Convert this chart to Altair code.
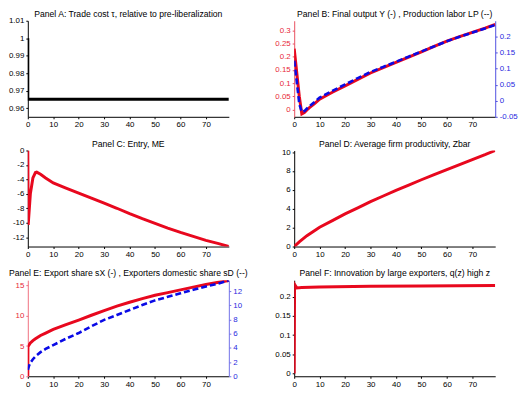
import altair as alt
import pandas as pd

FONT = "Liberation Sans"
RED = "#e8081e"
BLUE = "#0a0ae6"
RED_LBL = "#e8283a"
BLUE_LBL = "#2a2ae0"

# ---------------- data ----------------
x_ticks = [0, 10, 20, 30, 40, 50, 60, 70]

# Panel A: trade cost relative to pre-liberalization
a_t = [0, 0, 79]
a_tau = [1.0, 0.965, 0.965]
a_ticks = [0.96, 0.97, 0.98, 0.99, 1, 1.01]

# Panel B: final output Y (left) and production labor LP (right)
b_t = [0, 1, 2, 3, 4, 5, 6, 8, 10, 15, 20, 25, 30, 35, 40, 45, 50, 55, 60, 65, 70, 75, 79]
b_y = [0.23, 0.14, 0.05, -0.017, -0.012, -0.002, 0.007, 0.022, 0.039, 0.065, 0.089, 0.114,
       0.138, 0.158, 0.178, 0.198, 0.218, 0.239, 0.259, 0.276, 0.292, 0.308, 0.322]
b_lp = [0.125, 0.06, -0.01, -0.035, -0.032, -0.024, -0.017, -0.004, 0.010, 0.031, 0.051, 0.071,
        0.090, 0.106, 0.122, 0.138, 0.154, 0.170, 0.186, 0.200, 0.213, 0.226, 0.237]
b_left_ticks = [0, 0.05, 0.1, 0.15, 0.2, 0.25, 0.3]
b_right_ticks = [-0.05, 0, 0.05, 0.1, 0.15, 0.2]

# Panel C: entry ME
c_t = [0, 0.15, 1, 2, 3, 3.5, 5, 7, 10, 15, 20, 25, 30, 35, 40, 45, 50, 55, 60, 65, 70, 75, 79]
c_me = [0, -10.3, -6.0, -3.8, -3.05, -3.0, -3.3, -3.8, -4.5, -5.2, -5.9, -6.6, -7.3, -8.0,
        -8.75, -9.45, -10.1, -10.75, -11.35, -11.9, -12.45, -12.9, -13.3]
c_ticks = [-12, -10, -8, -6, -4, -2, 0]

# Panel D: average firm productivity Zbar
d_t = [0, 2, 5, 10, 15, 20, 25, 30, 35, 40, 45, 50, 55, 60, 65, 70, 75, 79]
d_z = [0, 0.5, 1.15, 2.05, 2.75, 3.45, 4.1, 4.75, 5.35, 5.95, 6.5, 7.07, 7.62, 8.15, 8.68,
       9.2, 9.72, 10.17]
d_ticks = [0, 2, 4, 6, 8, 10]

# Panel E: export share sX (left) and exporters domestic share sD (right)
e_t = [0, 0.05, 1, 2, 3, 5, 7, 10, 15, 20, 25, 30, 35, 40, 45, 50, 55, 60, 65, 70, 75, 79]
e_sx = [0, 4.9, 5.5, 5.9, 6.2, 6.75, 7.15, 7.75, 8.55, 9.3, 10.1, 10.85, 11.6, 12.25, 12.85,
        13.4, 13.85, 14.3, 14.75, 15.2, 15.55, 15.85]
e_sd_t = [0, 0.5, 1, 2, 3, 5, 7, 10, 15, 20, 25, 30, 35, 40, 45, 50, 55, 60, 65, 70, 75, 79]
e_sd = [0.9, 1.5, 1.9, 2.4, 2.8, 3.4, 3.85, 4.4, 5.3, 6.1, 7.05, 7.95, 8.65, 9.35, 10.05,
        10.7, 11.2, 11.7, 12.2, 12.65, 13.1, 13.5]
e_left_ticks = [0, 5, 10, 15]
e_right_ticks = [0, 2, 4, 6, 8, 10, 12]

# Panel F: innovation by large exporters q(z), high z
f_t = [0, 0.15, 1, 3, 10, 30, 50, 79]
f_q = [0, 0.232, 0.223, 0.224, 0.2255, 0.227, 0.228, 0.229]
f_ticks = [0, 0.05, 0.1, 0.15, 0.2]

titles = [
    "Panel A: Trade cost \u03c4, relative to pre-liberalization",
    "Panel B: Final output Y (-) , Production labor LP (--)",
    "Panel C: Entry, ME",
    "Panel D: Average firm productivity, Zbar",
    "Panel E: Export share sX (-) , Exporters domestic share sD (--)",
    "Panel F: Innovation by large exporters, q(z) high z",
]

W, H = 203, 97


def frame(t, v):
    return pd.DataFrame({"t": t, "v": v, "i": list(range(len(t)))})


def xenc():
    return alt.X("t:Q", scale=alt.Scale(domain=[0, 79], nice=False, zero=False),
                 axis=alt.Axis(values=x_ticks, title=None, labelFlush=False,
                               labelExpr="'' + datum.value"))


def yaxis(ticks, orient="left", color="#000", dcolor="#000"):
    return alt.Axis(values=ticks, title=None, orient=orient, labelColor=color,
                    domainColor=dcolor, tickColor=dcolor, labelFlush=False,
                    labelOverlap=False, labelExpr="'' + datum.value")


def line(df, color, dom, ticks, orient="left", lcolor="#000", dcolor="#000", dash=None, width=3):
    kw = dict(color=color, strokeWidth=width, clip=True)
    if dash:
        kw["strokeDash"] = dash
    return alt.Chart(df).mark_line(**kw).encode(
        x=xenc(),
        y=alt.Y("v:Q", scale=alt.Scale(domain=dom, nice=False, zero=False),
                axis=yaxis(ticks, orient, lcolor, dcolor)),
        order="i:Q",
    )


def head(k):
    df = pd.DataFrame({"label": [titles[k]]})
    return alt.Chart(df).mark_text(font=FONT, fontSize=8.7, color="#000", align="center",
                                   baseline="alphabetic").encode(
        x=alt.value(W / 2), y=alt.value(-4), text="label:N")


pA = alt.layer(line(frame(a_t, a_tau), "#000", [0.955, 1.01], a_ticks), head(0)).properties(
    width=W, height=H)

pB = alt.layer(
    line(frame(b_t, b_y), RED, [-0.028, 0.336], b_left_ticks, "left", RED_LBL, "#e85060"),
    line(frame(b_t, b_lp), BLUE, [-0.05, 0.25], b_right_ticks, "right", BLUE_LBL, "#5050e0",
         dash=[6, 3], width=2.6),
    head(1),
).resolve_scale(y="independent").properties(width=W, height=H)

pC = alt.layer(line(frame(c_t, c_me), RED, [-13.3, 0], c_ticks), head(2)).properties(
    width=W, height=H)

pD = alt.layer(line(frame(d_t, d_z), RED, [0, 10.17], d_ticks), head(3)).properties(
    width=W, height=H)

pE = alt.layer(
    line(frame(e_t, e_sx), RED, [0, 15.9], e_left_ticks, "left", RED_LBL, "#f07080"),
    line(frame(e_sd_t, e_sd), BLUE, [0, 13.55], e_right_ticks, "right", BLUE_LBL, "#7070e8",
         dash=[6, 3], width=2.6),
    head(4),
).resolve_scale(y="independent").properties(width=W, height=H)

pF = alt.layer(line(frame(f_t, f_q), RED, [-0.007, 0.243], f_ticks), head(5)).properties(
    width=W, height=H)

chart = alt.concat(pA, pB, pC, pD, pE, pF, columns=2,
                   spacing={"row": 11, "column": 27}).properties(
    padding={"left": 0, "top": 0, "right": 0, "bottom": 0}
).configure_view(stroke=None).configure_axis(
    labelFont=FONT, labelFontSize=8, grid=False, tickSize=2, labelPadding=2,
    domainColor="#000", tickColor="#000", labelColor="#000", domainWidth=1,
)

chart.save("out.html", embed_options={"renderer": "svg", "actions": False})
